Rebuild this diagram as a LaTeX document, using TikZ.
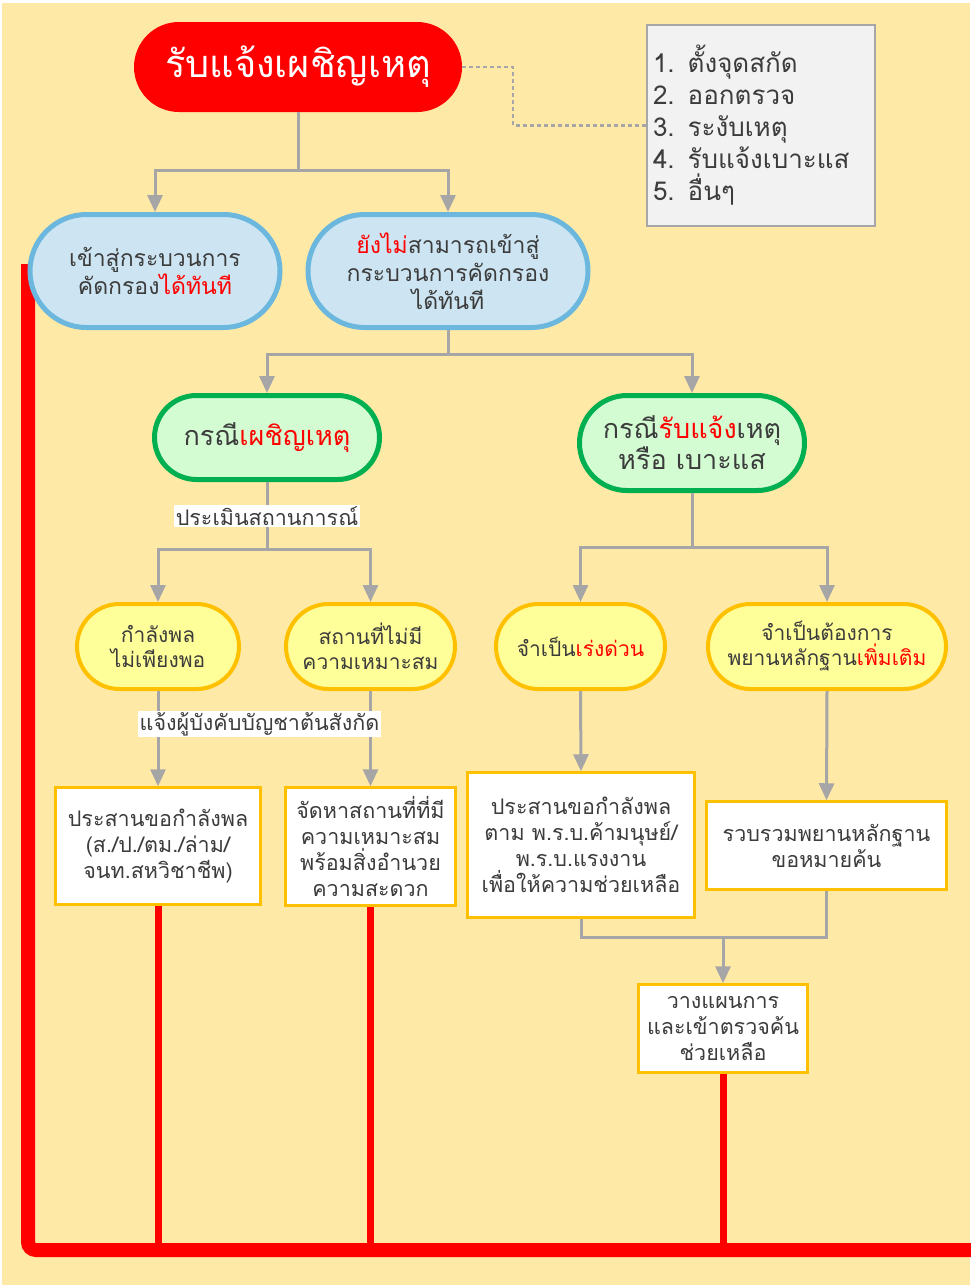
\documentclass[tikz,border=0pt]{standalone}
\usepackage{fontspec}
\setmainfont[Script=Thai]{Loma}
\usetikzlibrary{arrows.meta,shapes.misc,backgrounds}
\definecolor{bgc}{HTML}{FFE9A7}
\definecolor{tx}{HTML}{3C3C3C}
\definecolor{bluef}{HTML}{CDE5F2}
\definecolor{blued}{HTML}{6BB7DD}
\definecolor{greenf}{HTML}{D3FCD3}
\definecolor{greend}{HTML}{00B050}
\definecolor{yelf}{HTML}{FFFF99}
\definecolor{yeld}{HTML}{FFC000}
\definecolor{grl}{HTML}{A6A6A6}
\definecolor{boxf}{HTML}{F2F2F2}
\definecolor{rline}{HTML}{FF0000}
\newcommand{\rd}[1]{\textcolor{red}{#1}}
\begin{document}
\begin{tikzpicture}[x=1pt,y=-1pt,
  pillb/.style={rounded rectangle, draw=blued, fill=bluef, line width=5pt, text=tx, align=center, inner sep=0pt, minimum height=113pt, font=\fontsize{23}{28}\selectfont},
  pillg/.style={rounded rectangle, draw=greend, fill=greenf, line width=5pt, text=tx, align=center, inner sep=0pt, font=\fontsize{27}{31}\selectfont},
  pilly/.style={rounded rectangle, draw=yeld, fill=yelf, line width=4pt, text=tx, align=center, inner sep=0pt, minimum height=85pt, font=\fontsize{21}{25}\selectfont},
  rbox/.style={rectangle, draw=yeld, fill=white, line width=2.5pt, text=tx, align=center, inner sep=0pt, font=\fontsize{21.5}{26}\selectfont},
  lbl/.style={fill=white, text=tx, inner sep=1.5pt, font=\fontsize{21.5}{24}\selectfont},
  gline/.style={draw=grl, line width=3pt},
  garr/.style={gline, -{Triangle[width=15pt,length=17pt]}},
  dline/.style={draw=grl, line width=2.5pt, dash pattern=on 4pt off 3pt},
  rthick/.style={draw=rline, line width=14pt, rounded corners=8pt},
  rthin/.style={draw=rline, line width=7pt}]
\useasboundingbox (0,0) rectangle (970,1285);

% nodes
\node[fill=red, text=white, rounded rectangle, inner sep=0pt, minimum width=328pt, minimum height=90pt, font=\fontsize{38}{44}\selectfont] (title) at (298,67) {รับแจ้งเผชิญเหตุ};
\node[rectangle, draw=grl, fill=boxf, line width=2.5pt, text=tx, minimum width=228pt, minimum height=201pt, text width=216pt, inner xsep=6pt, align=left, font=\fontsize{26}{32}\selectfont] (list) at (761,125.5) {1. ตั้งจุดสกัด\\2. ออกตรวจ\\3. ระงับเหตุ\\4. รับแจ้งเบาะแส\\5. อื่นๆ};

\node[pillb, minimum width=250pt] (b1) at (155,271) {เข้าสู่กระบวนการ\\คัดกรอง\rd{ได้ทันที}};
\node[pillb, minimum width=280pt] (b2) at (448,271) {\rd{ยังไม่}สามารถเข้าสู่\\กระบวนการคัดกรอง\\ได้ทันที};

\node[pillg, minimum width=225pt, minimum height=84pt] (g1) at (267,437.5) {กรณี\rd{เผชิญเหตุ}};
\node[pillg, minimum width=225pt, minimum height=95pt] (g2) at (692,443) {กรณี\rd{รับแจ้ง}เหตุ\\หรือ เบาะแส};

\node[pilly, minimum width=162pt] (y1) at (158,646.5) {กำลังพล\\ไม่เพียงพอ};
\node[pilly, minimum width=169pt] (y2) at (370.5,646.5) {สถานที่ไม่มี\\ความเหมาะสม};
\node[pilly, minimum width=169pt] (y3) at (580.5,646.5) {จำเป็น\rd{เร่งด่วน}};
\node[pilly, minimum width=238pt] (y4) at (827,646.5) {จำเป็นต้องการ\\พยานหลักฐาน\rd{เพิ่มเติม}};

\node[rbox, minimum width=205pt, minimum height=117pt] (r1) at (158,846) {ประสานขอกำลังพล\\(ส./ป./ตม./ล่าม/\\จนท.สหวิชาชีพ)};
\node[rbox, minimum width=170pt, minimum height=118pt] (r2) at (370.5,846.5) {จัดหาสถานที่ที่มี\\ความเหมาะสม\\พร้อมสิ่งอำนวย\\ความสะดวก};
\node[rbox, minimum width=227pt, minimum height=145pt] (r3) at (581,845) {ประสานขอกำลังพล\\ตาม พ.ร.บ.ค้ามนุษย์/\\พ.ร.บ.แรงงาน\\เพื่อให้ความช่วยเหลือ};
\node[rbox, minimum width=240pt, minimum height=88pt] (r4) at (826.5,845.5) {รวบรวมพยานหลักฐาน\\ขอหมายค้น};
\node[rbox, minimum width=169pt, minimum height=88pt] (r5) at (723,1028.5) {วางแผนการ\\และเข้าตรวจค้น\\ช่วยเหลือ};

% junction coordinates
\coordinate (j1) at (298,170);
\coordinate (j2) at (448,354);
\coordinate (j3) at (267,549);
\coordinate (j4) at (692,547);
\coordinate (j5) at (723,937);

% connectors
\draw[dline] (title.east) -| (513,96) |- (list.west);
\draw[gline] (title.south) -- (j1);
\draw[garr] (j1) -| (b1.north);
\draw[garr] (j1) -| (b2.north);
\draw[gline] (b2.south) -- (j2);
\draw[garr] (j2) -| (g1.north);
\draw[garr] (j2) -| (g2.north);
\draw[gline] (g1.south) -- (j3);
\draw[garr] (j3) -| (y1.north);
\draw[garr] (j3) -| (y2.north);
\draw[gline] (g2.south) -- (j4);
\draw[garr] (j4) -| (y3.north);
\draw[garr] (j4) -| (y4.north);
\draw[garr] (y1.south) -- (r1.north);
\draw[garr] (y2.south) -- (r2.north);
\draw[garr] (y3.south) -- (r3.north);
\draw[garr] (y4.south) -- (r4.north);
\draw[gline] (r3.south) |- (j5);
\draw[gline] (r4.south) |- (j5);
\draw[garr] (j5) -- (r5.north);

% labels on lines
\node[lbl] (l1) at (267,516) {ประเมินสถานการณ์};
\node[lbl] (l2) at (259.5,724) {แจ้งผู้บังคับบัญชาต้นสังกัด};

% background and red lines
\begin{scope}[on background layer]
\fill[white] (0,0) rectangle (970,1285);
\fill[bgc] (2,3) rectangle (970,1285);
\coordinate (rtop) at (28,264);
\coordinate (rbl) at (28,1250);
\coordinate (rbr) at (975,1250);
\draw[rthin] (r1.south) -- (r1.south |- rbl);
\draw[rthin] (r2.south) -- (r2.south |- rbl);
\draw[rthin] (r5.south) -- (r5.south |- rbl);
\draw[rthick] (rtop) -- (rbl) -- (rbr);
\end{scope}
\end{tikzpicture}
\end{document}
